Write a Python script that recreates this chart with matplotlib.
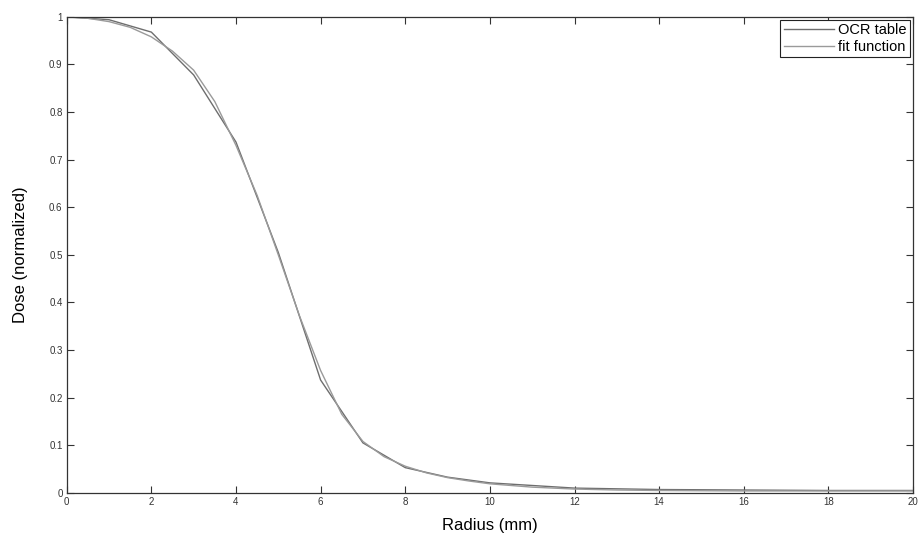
import matplotlib
matplotlib.use('Agg')
import matplotlib.pyplot as plt
import numpy as np

plt.rcParams['font.family'] = ['Liberation Sans', 'DejaVu Sans']

# OCR table
ocr_radius = [0, 1, 2, 3, 4, 5, 6, 7, 8, 9, 10, 12, 14, 16, 18, 20]
ocr_dose = [1.0, 0.994, 0.968, 0.878, 0.737, 0.505, 0.237, 0.105, 0.053, 0.033,
            0.021, 0.01, 0.007, 0.006, 0.005, 0.005]

# fit function
fit_radius = [0, 0.5, 1, 1.5, 2, 2.5, 3, 3.5, 4, 4.5, 5, 5.5, 6, 6.5, 7, 7.5, 8,
              8.5, 9, 9.5, 10, 11, 12, 13, 14, 16, 18, 20]
fit_dose = [1.0, 0.997, 0.99, 0.978, 0.958, 0.928, 0.888, 0.822, 0.73, 0.625,
            0.50, 0.372, 0.257, 0.165, 0.108, 0.076, 0.056, 0.042, 0.032, 0.025,
            0.019, 0.012, 0.008, 0.006, 0.005, 0.004, 0.004, 0.004]

fig = plt.figure(figsize=(9.2, 5.44), dpi=100)
ax = fig.add_axes([0.0725, 0.094, 0.92, 0.875])

ax.plot(ocr_radius, ocr_dose, color='#6e6e6e', linewidth=1.0, label='OCR table')
ax.plot(fit_radius, fit_dose, color='#9a9a9a', linewidth=1.0, label='fit function')

ax.set_xlim(0, 20)
ax.set_ylim(0, 1)
ax.set_xticks(np.arange(0, 21, 2))
ax.set_yticks(np.arange(0, 1.01, 0.1))
ax.set_yticklabels(['0', '0.1', '0.2', '0.3', '0.4', '0.5', '0.6', '0.7', '0.8', '0.9', '1'])
ax.tick_params(direction='in', top=True, right=True, length=5, width=0.8,
               labelsize=7, colors='#333333', pad=3)
for s in ax.spines.values():
    s.set_color('#333333')
    s.set_linewidth(0.9)

ax.set_xlabel('Radius (mm)', fontsize=12, labelpad=8)
ax.set_ylabel('Dose (normalized)', fontsize=12, labelpad=15)

leg = ax.legend(loc='upper right', fontsize=10.5, fancybox=False, framealpha=1,
                edgecolor='#222222', borderpad=0.25, handlelength=3.4,
                handletextpad=0.3, borderaxespad=0.2, labelspacing=0.15)
leg.get_frame().set_linewidth(0.8)

fig.savefig('out.png', dpi=100)
